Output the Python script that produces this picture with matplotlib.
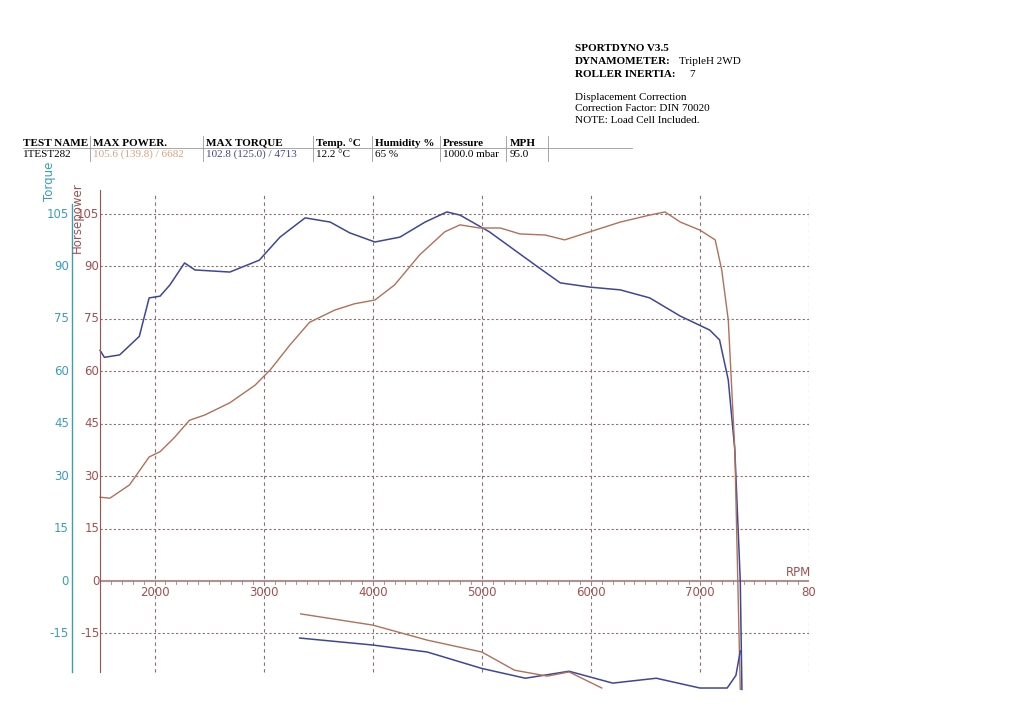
import matplotlib
matplotlib.use("Agg")
import matplotlib.pyplot as plt

# torque (blue) and power (brown), acceleration run
torque_rpm = [1500, 1540, 1680, 1860, 1950, 2050, 2140, 2275, 2370, 2690, 2960, 3150, 3380, 3610, 3790,
              4020, 4250, 4480, 4680, 4800, 5070, 5490, 5720, 5990, 6270, 6540, 6820, 7090, 7180, 7260,
              7320, 7370, 7385]
torque_val = [66, 64, 64.7, 70, 81, 81.5, 84.7, 91, 89, 88.4, 91.8, 98.4, 103.9, 102.7, 99.6,
              97, 98.4, 102.7, 105.6, 104.7, 99.9, 90.4, 85.3, 84.1, 83.3, 81, 75.8, 71.8, 69, 57.5,
              37.5, 0, -31]
power_rpm = [1500, 1590, 1770, 1950, 2050, 2180, 2320, 2460, 2690, 2920, 3060, 3240, 3420, 3650, 3830,
             4020, 4200, 4430, 4660, 4800, 4980, 5170, 5350, 5580, 5760, 5990, 6270, 6540, 6680, 6820,
             7000, 7140, 7200, 7260, 7320, 7370]
power_val = [24, 23.7, 27.5, 35.5, 37, 41, 46, 47.5, 51, 56, 60.4, 67.5, 74, 77.5, 79.3,
             80.4, 84.7, 93.3, 99.9, 101.9, 101, 101, 99.3, 99, 97.6, 99.9, 102.7, 104.7, 105.6, 102.7,
             100.4, 97.6, 89, 74.7, 37.5, -31]
# coast-down (loss) curves
loss_t_rpm = [3330, 4000, 4500, 5000, 5400, 5800, 6200, 6600, 7000, 7250, 7330, 7370]
loss_t_val = [-16.3, -18.3, -20.3, -25, -27.8, -25.8, -29.2, -27.8, -30.6, -30.6, -27, -20]
loss_p_rpm = [3340, 4000, 4500, 5000, 5300, 5600, 5800, 6100]
loss_p_val = [-9.4, -12.6, -16.9, -20.3, -25.5, -27.2, -26, -30.6]

y_ticks = [-15, 0, 15, 30, 45, 60, 75, 90, 105]
x_ticks = [2000, 3000, 4000, 5000, 6000, 7000, 8000]

blue = "#3d4796"
brown = "#b0705a"
axis_brown = "#a05050"
teal = "#3a9fb5"

fig = plt.figure(figsize=(10.23, 7.24), dpi=100)
ax = fig.add_axes([0.0978, 0.0497, 0.693, 0.688])
ax.set_xlim(1500, 8000)
ax.set_ylim(-30.6, 111.9)

for x in x_ticks:
    ax.plot([x, x], [-26, 111], ls=(0, (3, 3)), color="#8a7070", lw=0.8)
for y in y_ticks:
    if y != 0:
        ax.plot([1500, 8000], [y, y], ls=(0, (2, 2)), color="#8a7070", lw=0.8)
ax.axhline(0, color="#b09090", lw=1.5)
for x in range(1600, 8000, 100):
    ax.plot([x, x], [0, -0.8], color="#a08080", lw=0.6)

ax.plot(torque_rpm, torque_val, color=blue, lw=1.1, clip_on=False)
ax.plot(power_rpm, power_val, color=brown, lw=1.0, clip_on=False)
ax.plot(loss_t_rpm, loss_t_val, color=blue, lw=1.1, clip_on=False)
ax.plot(loss_p_rpm, loss_p_val, color=brown, lw=1.0, clip_on=False)

for s in ["top", "right", "bottom"]:
    ax.spines[s].set_visible(False)
ax.spines["left"].set_color(axis_brown)
ax.spines["left"].set_bounds(-26, 112)
ax.set_xticks([])
ax.set_yticks([])
for x in x_ticks:
    ax.text(x, -1.5, str(x)[:2] if x == 8000 else str(x), color=axis_brown, fontsize=8.5,
            ha="center", va="top")
ax.text(7900, 0.5, "RPM", color=axis_brown, fontsize=8.5, ha="center", va="bottom")
for y in y_ticks:
    ax.text(1492, y, str(y), color=axis_brown, fontsize=8.5, ha="right", va="center")
    ax.text(1215, y, str(y), color=teal, fontsize=8.5, ha="right", va="center")
ax.plot([1240, 1240], [-26, 108], color=teal, lw=1, clip_on=False)
ax.text(1290, 114, "Horsepower", color=axis_brown, fontsize=8.5, rotation=90, ha="center", va="top")
ax.text(1040, 120, "Torque", color=teal, fontsize=8.5, rotation=90, ha="center", va="top")

# header block
hx = 0.562
fig.text(hx, 0.930, "SPORTDYNO V3.5", fontsize=8, family="Liberation Serif", weight="bold")
fig.text(hx, 0.912, "DYNAMOMETER:", fontsize=8, family="Liberation Serif", weight="bold")
fig.text(hx + 0.102, 0.912, "TripleH 2WD", fontsize=8, family="Liberation Serif")
fig.text(hx, 0.894, "ROLLER INERTIA:", fontsize=8, family="Liberation Serif", weight="bold")
fig.text(hx + 0.112, 0.894, "7", fontsize=8, family="Liberation Serif")
fig.text(hx, 0.862, "Displacement Correction", fontsize=8, family="Liberation Serif")
fig.text(hx, 0.846, "Correction Factor: DIN 70020", fontsize=8, family="Liberation Serif")
fig.text(hx, 0.830, "NOTE: Load Cell Included.", fontsize=8, family="Liberation Serif")

cols = [(0.022, "TEST NAME", "1TEST282", "black"),
        (0.091, "MAX POWER.", "105.6 (139.8) / 6682", "#d8a080"),
        (0.201, "MAX TORQUE", "102.8 (125.0) / 4713", blue),
        (0.309, "Temp. °C", "12.2 °C", "black"),
        (0.367, "Humidity %", "65 %", "black"),
        (0.433, "Pressure", "1000.0 mbar", "black"),
        (0.498, "MPH", "95.0", "black")]
for i, (x, head, val, c) in enumerate(cols):
    fig.text(x, 0.799, head, fontsize=8, family="Liberation Serif", weight="bold")
    fig.text(x, 0.783, val, fontsize=8, family="Liberation Serif", color=c)
    if i > 0:
        fig.add_artist(plt.Line2D([x - 0.003, x - 0.003], [0.778, 0.812], color="#999999", lw=0.6))
fig.add_artist(plt.Line2D([0.536, 0.536], [0.778, 0.812], color="#999999", lw=0.6))
fig.add_artist(plt.Line2D([0.022, 0.618], [0.796, 0.796], color="#999999", lw=0.6))

fig.savefig("out.png", dpi=100)
